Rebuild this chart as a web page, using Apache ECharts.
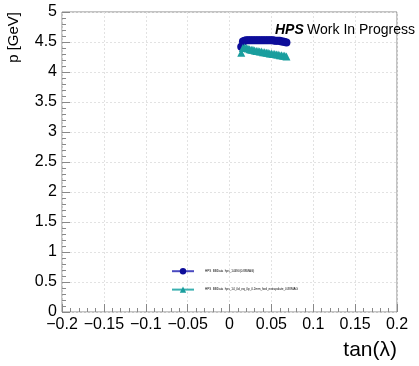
<!DOCTYPE html>
<html><head><meta charset="utf-8">
<script src="https://cdn.jsdelivr.net/npm/echarts@6/dist/echarts.min.js"></script>
<style>html,body{margin:0;padding:0;background:#fff}#c{width:419px;height:366px}</style>
</head><body><div id="c"></div>
<script>
const xTicks = [-0.2,-0.15,-0.1,-0.05,0,0.05,0.1,0.15,0.2];
const yTicks = [0,0.5,1,1.5,2,2.5,3,3.5,4,4.5,5];
const tanLambda = [0.014,0.016,0.018,0.020,0.022,0.024,0.026,0.028,0.030,0.032,0.034,0.036,0.038,0.040,0.042,0.044,0.046,0.048,0.050,0.052,0.054,0.056,0.058,0.060,0.062,0.064,0.066,0.068];
const pBlue = [4.42,4.51,4.52,4.53,4.53,4.53,4.53,4.53,4.53,4.53,4.53,4.53,4.53,4.53,4.53,4.53,4.53,4.53,4.53,4.53,4.52,4.52,4.52,4.52,4.51,4.51,4.50,4.49];
const pTeal = [4.32,4.40,4.41,4.40,4.39,4.38,4.37,4.37,4.36,4.35,4.35,4.34,4.34,4.33,4.33,4.32,4.32,4.31,4.31,4.30,4.30,4.29,4.29,4.28,4.28,4.27,4.27,4.26];
const seriesNames = ["HPS_BBData_hps_14490(0.88MAG)", "HPS_BBData_hps_14_0d_eq_0p_0.2mm_fwd_extrapolate_0.88MAG"];

const fmt = v => { const s = (Math.round(v*1000)/1000).toString(); return s.replace('-', '\u2212'); };
const chart = echarts.init(document.getElementById('c'));
chart.setOption({
  animation:false,
  backgroundColor:'#fff',
  grid:{left:62,right:22,top:12,bottom:54,show:true,borderColor:'#888',borderWidth:1},
  xAxis:{type:'value',min:xTicks[0],max:xTicks[xTicks.length-1],interval:0.05,
    name:'tan(λ)',nameLocation:'end',nameGap:0,
    nameTextStyle:{fontFamily:'Liberation Sans',fontSize:21,color:'#000',align:'right',verticalAlign:'top',padding:[28,0,0,0]},
    axisLine:{show:false,onZero:false},
    axisTick:{show:true,inside:true,length:8,lineStyle:{color:'#888'}},
    minorTick:{show:true,splitNumber:5,length:4,lineStyle:{color:'#888'}},
    axisLabel:{formatter:fmt,fontFamily:'Liberation Sans',fontSize:16,color:'#000',margin:5},
    splitLine:{show:true,lineStyle:{color:'#e2e2e2',type:[2,2],width:1}}},
  yAxis:{type:'value',min:yTicks[0],max:yTicks[yTicks.length-1],interval:0.5,
    axisLine:{show:false,onZero:false},
    axisTick:{show:true,inside:true,length:8,lineStyle:{color:'#888'}},
    minorTick:{show:true,splitNumber:5,length:4,lineStyle:{color:'#888'}},
    axisLabel:{formatter:fmt,fontFamily:'Liberation Sans',fontSize:16,color:'#000',margin:5},
    splitLine:{show:true,lineStyle:{color:'#e2e2e2',type:[2,2],width:1}}},
  legend:{orient:'vertical',left:166,top:263,itemGap:12,itemWidth:22,itemHeight:8,
    textStyle:{fontSize:3,color:'#000',padding:[0,0,0,6]},data:seriesNames},
  graphic:[
    {type:'text',left:275,top:23,z:100,style:{rich:{b:{fontFamily:'Liberation Sans',fontWeight:'bold',fontStyle:'italic',fontSize:14,fill:'#000'},n:{fontFamily:'Liberation Sans',fontSize:14,fill:'#000'}},text:'{b|HPS} {n|Work In Progress}'}},
    {type:'text',x:14,y:12,rotation:Math.PI/2,style:{text:'p [GeV]',fontFamily:'Liberation Sans',fontSize:15,fill:'#000',align:'right',verticalAlign:'middle'}}
  ],
  series:[
    {name:seriesNames[0],type:'line',data:tanLambda.map((x,i)=>[x,pBlue[i]]),symbol:'circle',symbolSize:8,
      itemStyle:{color:'#0d0d9a'},lineStyle:{color:'#4a4ac0',width:1.5}},
    {name:seriesNames[1],type:'line',data:tanLambda.map((x,i)=>[x,pTeal[i]]),symbol:'triangle',symbolSize:8,
      itemStyle:{color:'#1a9e9e'},lineStyle:{color:'#3ab0b0',width:1.5}}
  ]
});
</script></body></html>
